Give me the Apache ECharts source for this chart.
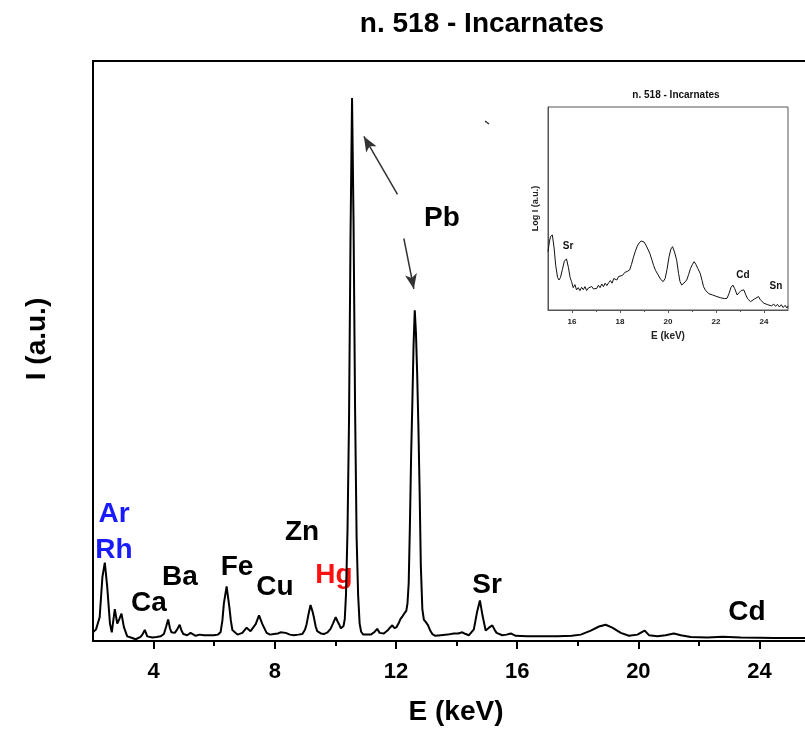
<!DOCTYPE html>
<html>
<head>
<meta charset="utf-8">
<script src="https://cdn.jsdelivr.net/npm/echarts@6/dist/echarts.min.js"></script>
<style>
html,body{margin:0;padding:0;background:#fff;}
#chart{width:805px;height:731px;}
</style>
</head>
<body>
<div id="chart"></div>
<script>
// ---- main spectrum (E in keV, intensity in arbitrary units) ----
const energy = [
 2.00,2.10,2.22,2.31,2.39,2.47,2.56,2.62,2.67,2.72,2.80,2.87,2.94,3.02,3.13,3.25,3.41,3.57,3.64,3.71,
 3.79,3.96,4.10,4.23,4.34,4.41,4.48,4.54,4.59,4.70,4.78,4.86,4.92,4.98,5.11,5.22,5.39,5.52,5.66,5.80,
 5.99,6.12,6.21,6.27,6.32,6.41,6.50,6.55,6.60,6.77,6.93,7.07,7.20,7.37,7.48,7.59,7.73,7.85,7.97,8.10,
 8.19,8.36,8.50,8.63,8.78,8.91,9.00,9.05,9.12,9.18,9.24,9.29,9.35,9.40,9.52,9.62,9.74,9.84,9.92,10.01,
 10.07,10.12,10.18,10.23,10.27,10.31,10.35,10.40,10.45,10.50,10.55,10.60,10.65,10.70,10.75,10.80,10.85,10.92,11.00,11.17,
 11.30,11.38,11.46,11.60,11.72,11.80,11.88,11.95,12.02,12.10,12.15,12.22,12.28,12.34,12.38,12.42,12.46,12.50,12.54,12.58,
 12.62,12.66,12.70,12.74,12.78,12.82,12.87,12.92,12.98,13.06,13.13,13.20,13.30,13.48,13.70,13.91,14.05,14.19,14.30,14.41,
 14.57,14.68,14.77,14.86,14.96,15.07,15.18,15.25,15.32,15.51,15.65,15.79,15.95,16.34,16.80,17.33,17.80,18.10,18.43,18.70,
 18.92,19.14,19.42,19.69,19.97,20.10,20.21,20.28,20.35,20.63,20.90,21.17,21.40,21.73,22.28,22.78,23.38,24.00,24.48,25.00,
 25.50
];
const intensity = [
 1.5,2.0,4.1,11.0,13.5,9.3,3.0,1.5,3.5,5.5,3.0,3.8,4.7,2.4,0.8,0.6,0.3,0.7,1.2,1.9,
 0.8,0.6,0.7,0.8,1.2,2.4,3.7,2.2,1.5,1.4,2.0,2.8,1.8,1.2,1.0,1.4,0.9,1.1,1.0,1.0,
 1.0,1.1,1.5,3.5,6.5,9.4,5.9,3.5,1.9,1.1,1.4,2.3,1.7,2.9,4.4,2.9,1.4,1.1,1.2,1.3,
 1.5,1.4,1.1,1.0,1.1,1.2,2.0,2.9,4.8,6.2,5.2,4.1,2.5,1.7,1.3,1.2,1.5,2.1,3.0,4.1,
 3.4,2.9,2.2,2.0,2.6,3.8,8.0,19,38,70,93.6,72,40,18,8.0,3.0,1.6,1.1,1.1,1.1,
 1.6,2.1,1.4,1.3,1.8,2.3,2.7,2.2,2.4,3.2,3.8,4.3,4.8,5.2,6.5,10,20,32,41,51,
 57,53,46,37,26,13,5.5,3.7,3.3,2.7,1.8,1.2,0.9,1.0,1.1,1.3,1.3,1.5,1.2,1.0,
 2.0,5.1,7.0,4.3,1.8,2.3,2.7,2.0,1.4,1.0,1.1,1.3,0.9,0.8,0.8,0.8,0.9,1.1,1.8,2.5,
 2.8,2.3,1.4,0.9,1.1,1.5,1.8,1.4,1.0,0.8,1.0,1.3,1.0,0.7,0.6,0.75,0.6,0.55,0.5,0.5,
 0.5
];
const mainTickValues = [4, 8, 12, 16, 20, 24];
const mainMinorTickValues = [6, 10, 14, 18, 22];

// ---- inset spectrum (E in keV, log intensity in arbitrary units) ----
const insetEnergy = [
 15.00,15.05,15.10,15.18,15.25,15.32,15.40,15.46,15.52,15.60,15.68,15.77,15.85,15.92,15.98,16.05,16.12,16.19,16.26,16.33,
 16.40,16.47,16.54,16.61,16.68,16.75,16.82,16.89,16.96,17.03,17.10,17.17,17.24,17.31,17.38,17.45,17.53,17.60,17.67,17.74,
 17.80,17.87,17.94,18.00,18.10,18.20,18.30,18.40,18.48,18.56,18.64,18.72,18.80,18.88,18.94,19.00,19.08,19.16,19.24,19.32,
 19.40,19.48,19.59,19.70,19.80,19.88,19.96,20.04,20.12,20.19,20.26,20.36,20.44,20.50,20.57,20.64,20.71,20.78,20.86,20.94,
 21.02,21.09,21.16,21.24,21.34,21.42,21.48,21.55,21.62,21.70,21.78,21.86,21.94,22.04,22.12,22.20,22.28,22.36,22.46,22.54,
 22.62,22.70,22.78,22.88,22.96,23.05,23.16,23.24,23.32,23.44,23.52,23.60,23.68,23.77,23.85,23.92,24.00,24.08,24.16,24.24,
 24.32,24.40,24.48,24.56,24.64,24.72,24.80,24.88,24.96,25.00
];
const insetLogI = [
 28.8,33,36,37,31,22,16,14.8,16,20,24,25.2,21,16,14,11,12.5,9.9,11,9.5,
 11.2,10,11.5,9.6,10.8,10.2,11.6,10.4,11.2,10.6,12.2,11,12.8,11.5,13.2,12,13.5,14.5,13.2,15.5,
 15.8,14.8,16.5,15.8,17,18.5,19,19.7,22.5,26,29,31.5,33,34,34.5,33.5,32,30,28,25,
 22,19.5,17.3,15,14,15.5,20,26,30,31.2,29,24.7,18,14,12.3,13,13.8,14.8,17.5,20.5,
 22.5,23.8,22.5,20.5,18.1,14.5,11.5,9.9,9.2,8.0,8.6,7.4,7.8,6.6,7.2,6.0,6.8,5.6,5.8,8,
 11,12.3,10.5,7.4,8.5,9.6,9.9,7.5,5.5,4.1,4.6,5.4,6.3,6.6,5.0,4.2,3.3,4.0,2.6,3.4,
 2.0,3.0,1.8,2.8,1.5,2.6,1.2,2.3,1.0,2.0
];
const insetTickValues = [16, 18, 20, 22, 24];
const insetMinorTickValues = [17, 19, 21, 23];

const FONT = '"Liberation Sans", Arial, sans-serif';
const mainData = energy.map((e, i) => [e, intensity[i]]);
const insetData = insetEnergy.map((e, i) => [e, insetLogI[i]]);

function txt(text, x, y, size, color, rotation) {
  return {
    type: 'text', x: x, y: y, rotation: rotation || 0, silent: true,
    style: { text: text, fill: color || '#000', font: 'bold ' + size + 'px ' + FONT,
             textAlign: 'center', textVerticalAlign: 'middle', verticalAlign: 'middle' }
  };
}

const chart = echarts.init(document.getElementById('chart'), null, { renderer: 'canvas' });
chart.setOption({
  animation: false,
  backgroundColor: '#fff',
  grid: [
    { left: 93, top: 61, right: 0, bottom: 87, containLabel: false },
    { left: 548, top: 107, width: 240, height: 203, show: true, borderColor: '#555', borderWidth: 1, backgroundColor: 'rgba(0,0,0,0)' }
  ],
  xAxis: [
    { type: 'value', gridIndex: 0, min: 2, max: 25.5, position: 'bottom',
      name: 'E (keV)', nameLocation: 'middle', nameGap: 57,
      nameTextStyle: { fontFamily: FONT, fontWeight: 'bold', fontSize: 28, color: '#000', padding: [0, 0, 0, 14] },
      axisLine: { show: true, lineStyle: { color: '#000', width: 2 } },
      axisTick: { show: true, inside: false, length: 8, lineStyle: { color: '#000', width: 2 }, customValues: mainTickValues },
      axisLabel: { show: true, margin: 20, fontFamily: FONT, fontWeight: 'bold', fontSize: 22, color: '#000', customValues: mainTickValues },
      splitLine: { show: false } },
    { type: 'value', gridIndex: 0, min: 2, max: 25.5, position: 'bottom', offset: 0,
      axisLine: { show: false },
      axisTick: { show: true, inside: false, length: 5, lineStyle: { color: '#000', width: 2 }, customValues: mainMinorTickValues },
      axisLabel: { show: false }, splitLine: { show: false } },
    { type: 'value', gridIndex: 0, min: 2, max: 25.5, position: 'top',
      axisLine: { show: true, lineStyle: { color: '#000', width: 2 } },
      axisTick: { show: false }, axisLabel: { show: false }, splitLine: { show: false } },
    { type: 'value', gridIndex: 1, min: 15, max: 25, position: 'bottom',
      name: 'E (keV)', nameLocation: 'middle', nameGap: 21,
      nameTextStyle: { fontFamily: FONT, fontWeight: 'bold', fontSize: 10, color: '#222' },
      axisLine: { show: true, lineStyle: { color: '#555', width: 1 } },
      axisTick: { show: true, length: 3, lineStyle: { color: '#555', width: 1 }, customValues: insetTickValues },
      axisLabel: { show: true, margin: 8, fontFamily: FONT, fontWeight: 'bold', fontSize: 8, color: '#222', customValues: insetTickValues },
      splitLine: { show: false } },
    { type: 'value', gridIndex: 1, min: 15, max: 25, position: 'bottom', offset: 0,
      axisLine: { show: false },
      axisTick: { show: true, length: 2, lineStyle: { color: '#555', width: 1 }, customValues: insetMinorTickValues },
      axisLabel: { show: false }, splitLine: { show: false } }
  ],
  yAxis: [
    { type: 'value', gridIndex: 0, min: 0, max: 100,
      name: 'I (a.u.)', nameLocation: 'middle', nameGap: 42, nameRotate: 90,
      nameTextStyle: { fontFamily: FONT, fontWeight: 'bold', fontSize: 28, color: '#000', padding: [0, 0, 0, 24] },
      axisLine: { show: true, lineStyle: { color: '#000', width: 2 } },
      axisTick: { show: false }, axisLabel: { show: false }, splitLine: { show: false } },
    { type: 'value', gridIndex: 1, min: 0, max: 100,
      name: 'Log I (a.u.)', nameLocation: 'middle', nameGap: 8, nameRotate: 90,
      nameTextStyle: { fontFamily: FONT, fontWeight: 'bold', fontSize: 9, color: '#222' },
      axisLine: { show: true, lineStyle: { color: '#555', width: 1 } },
      axisTick: { show: false }, axisLabel: { show: false }, splitLine: { show: false } }
  ],
  series: [
    { type: 'line', xAxisIndex: 0, yAxisIndex: 0, data: mainData, showSymbol: false, symbol: 'none',
      lineStyle: { color: '#000', width: 2 }, silent: true,
      markLine: {
        silent: true, animation: false, symbol: ['none', 'arrow'], symbolSize: [9, 15],
        lineStyle: { color: '#333', width: 1.5, type: 'solid' }, label: { show: false },
        data: [
          [{ coord: [12.05, 77.0] }, { coord: [10.94, 87.0] }],
          [{ coord: [12.26, 69.4] }, { coord: [12.59, 60.7] }]
        ]
      } },
    { type: 'line', xAxisIndex: 3, yAxisIndex: 1, data: insetData, showSymbol: false, symbol: 'none',
      lineStyle: { color: '#111', width: 1 }, silent: true }
  ],
  graphic: [
    txt('n. 518 - Incarnates', 482, 24, 28, '#000'),
    txt('n. 518 - Incarnates', 676, 95, 10, '#111'),
    txt('Ar', 114, 514, 28, '#1a1aff'),
    txt('Rh', 114, 550, 28, '#1a1aff'),
    txt('Ca', 149, 603, 28, '#000'),
    txt('Ba', 180, 577, 28, '#000'),
    txt('Fe', 237, 567, 28, '#000'),
    txt('Cu', 275, 587, 28, '#000'),
    txt('Zn', 302, 532, 28, '#000'),
    txt('Hg', 334, 575, 28, '#ff1010'),
    txt('Pb', 442, 218, 28, '#000'),
    txt('Sr', 487, 585, 28, '#000'),
    txt('Cd', 747, 612, 28, '#000'),
    txt('Sr', 568, 246, 10, '#111'),
    txt('Cd', 743, 275, 10, '#111'),
    txt('Sn', 776, 286, 10, '#111'),
    { type: 'line', silent: true, shape: { x1: 485, y1: 121, x2: 489, y2: 124 }, style: { stroke: '#333', lineWidth: 1.5 } }
  ]
});
</script>
</body>
</html>
